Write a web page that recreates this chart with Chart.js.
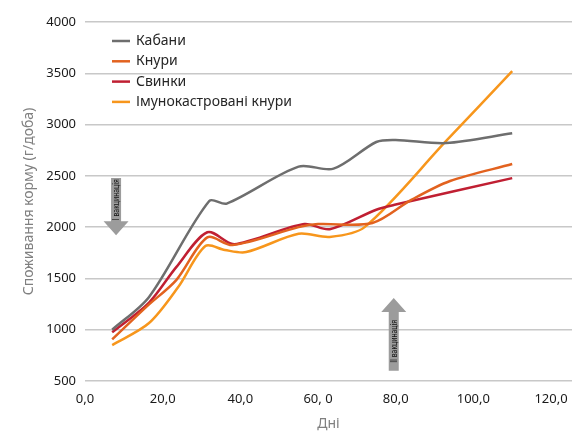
<!DOCTYPE html>
<html>
<head>
<meta charset="utf-8">
<script src="https://cdn.jsdelivr.net/npm/chart.js@4.4.1/dist/chart.umd.min.js"></script>
<style>
  html, body { margin: 0; padding: 0; background: #fff; }
  #wrap { width: 579px; height: 432px; }
</style>
</head>
<body>
<div id="wrap"><canvas id="chart" width="579" height="432"></canvas></div>
<script>
// Data
const seriesNames = ["Кабани", "Кнури", "Свинки", "Імунокастровані кнури"];
const seriesColors = ["#6e6e6e", "#e2621f", "#c01f32", "#f7961c"];

const boarDays = [7, 16.5, 32, 36.5, 55, 64, 75, 80, 93, 110];
const boarFeed = [1000, 1320, 2255, 2230, 2590, 2570, 2830, 2850, 2820, 2915];

const maleDays = [7, 16, 23.5, 31.5, 38, 55, 60, 74, 84, 94, 110];
const maleFeed = [905, 1230, 1484, 1900, 1825, 2000, 2030, 2040, 2265, 2450, 2615];

const giltDays = [7, 16.5, 23.5, 31.5, 38, 43, 56.5, 63, 75, 80, 110];
const giltFeed = [975, 1265, 1610, 1950, 1835, 1875, 2030, 1980, 2170, 2220, 2478];

const immunoDays = [7, 16.5, 24, 31, 36, 41.5, 55, 63, 72, 93, 110];
const immunoFeed = [850, 1065, 1416, 1816, 1777, 1757, 1935, 1905, 2000, 2840, 3520];

const xTickValues = [0, 20, 40, 60, 80, 100, 120];
const xTickLabels = ["0,0", "20,0", "40,0", "60, 0", "80,0", "100,0", "120,0"];

// vaccination arrows: day, tail value, tip value
const vaccinations = [
    { label: "І вакцинація", day: 8, from: 2480, to: 1920 },
    { label: "ІІ вакцинація", day: 79.5, from: 600, to: 1310 }
];

const FONT = "'Noto Sans', 'DejaVu Sans', sans-serif";

function points(days, values) {
    return days.map((d, i) => ({ x: d, y: values[i] }));
}

const legendPlugin = {
    id: "insideLegend",
    afterDatasetsDraw(chart) {
        const ctx = chart.ctx;
        ctx.save();
        ctx.font = "14px " + FONT;
        ctx.textBaseline = "middle";
        chart.data.datasets.forEach((ds, i) => {
            const y = 41 + i * 20.3;
            ctx.strokeStyle = ds.borderColor;
            ctx.lineWidth = 2.5;
            ctx.beginPath();
            ctx.moveTo(112, y);
            ctx.lineTo(130, y);
            ctx.stroke();
            ctx.fillStyle = "#262626";
            ctx.fillText(ds.label, 136, y);
        });
        ctx.restore();
    }
};

const arrowPlugin = {
    id: "vaccinationArrows",
    afterDatasetsDraw(chart) {
        const ctx = chart.ctx;
        const xs = chart.scales.x, ys = chart.scales.y;
        vaccinations.forEach(v => {
            const cx = xs.getPixelForValue(v.day);
            const y0 = ys.getPixelForValue(v.from);
            const y1 = ys.getPixelForValue(v.to);
            const dir = y1 > y0 ? 1 : -1;
            const headLen = 14, shaftW = 10, headW = 25;
            const yBase = y1 - dir * headLen;
            ctx.save();
            ctx.fillStyle = "#9c9c9c";
            ctx.beginPath();
            ctx.moveTo(cx - shaftW / 2, y0);
            ctx.lineTo(cx + shaftW / 2, y0);
            ctx.lineTo(cx + shaftW / 2, yBase);
            ctx.lineTo(cx + headW / 2, yBase);
            ctx.lineTo(cx, y1);
            ctx.lineTo(cx - headW / 2, yBase);
            ctx.lineTo(cx - shaftW / 2, yBase);
            ctx.closePath();
            ctx.fill();
            // label along the shaft, reading upwards
            ctx.translate(cx, (y0 + yBase) / 2);
            ctx.rotate(-Math.PI / 2);
            ctx.scale(0.8, 1);
            ctx.fillStyle = "#111";
            ctx.font = "8.5px " + FONT;
            ctx.textAlign = "center";
            ctx.textBaseline = "middle";
            ctx.fillText(v.label, 0, 0.5);
            ctx.restore();
        });
    }
};

const ctx = document.getElementById("chart").getContext("2d");
new Chart(ctx, {
    type: "line",
    data: {
        datasets: [
            { label: seriesNames[0], data: points(boarDays, boarFeed), borderColor: seriesColors[0] },
            { label: seriesNames[1], data: points(maleDays, maleFeed), borderColor: seriesColors[1] },
            { label: seriesNames[2], data: points(giltDays, giltFeed), borderColor: seriesColors[2] },
            { label: seriesNames[3], data: points(immunoDays, immunoFeed), borderColor: seriesColors[3] }
        ]
    },
    options: {
        responsive: false,
        animation: false,
        devicePixelRatio: 1,
        layout: { padding: { top: 22, right: 7, left: 0, bottom: 0 } },
        elements: {
            line: { borderWidth: 2.5, tension: 0.3, fill: false },
            point: { radius: 0 }
        },
        plugins: {
            legend: { display: false },
            tooltip: { enabled: false }
        },
        scales: {
            x: {
                type: "linear",
                min: 0,
                max: 125.4,
                afterFit(scale) { scale.height = 51; },
                afterBuildTicks(scale) { scale.ticks = xTickValues.map(v => ({ value: v })); },
                grid: { display: false, drawTicks: false },
                border: { display: false },
                ticks: {
                    padding: 10,
                    maxRotation: 0,
                    color: "#1a1a1a",
                    font: { family: FONT, size: 13 },
                    callback: (v) => xTickLabels[xTickValues.indexOf(v)]
                },
                title: {
                    display: true,
                    text: "Дні",
                    color: "#808080",
                    padding: { top: 2, bottom: 0 },
                    font: { family: FONT, size: 14 }
                }
            },
            y: {
                min: 500,
                max: 4000,
                afterFit(scale) { scale.width = 85; },
                grid: { color: "#c8c8c8", lineWidth: 1.5, drawTicks: false },
                border: { display: false },
                ticks: {
                    stepSize: 500,
                    padding: 9,
                    color: "#1a1a1a",
                    font: { family: FONT, size: 13 },
                    callback: (v) => String(v)
                },
                title: {
                    display: true,
                    text: "Споживання корму (г/доба)",
                    color: "#808080",
                    padding: { top: 21, bottom: 0 },
                    font: { family: FONT, size: 14 }
                }
            }
        }
    },
    plugins: [legendPlugin, arrowPlugin]
});
</script>
</body>
</html>
